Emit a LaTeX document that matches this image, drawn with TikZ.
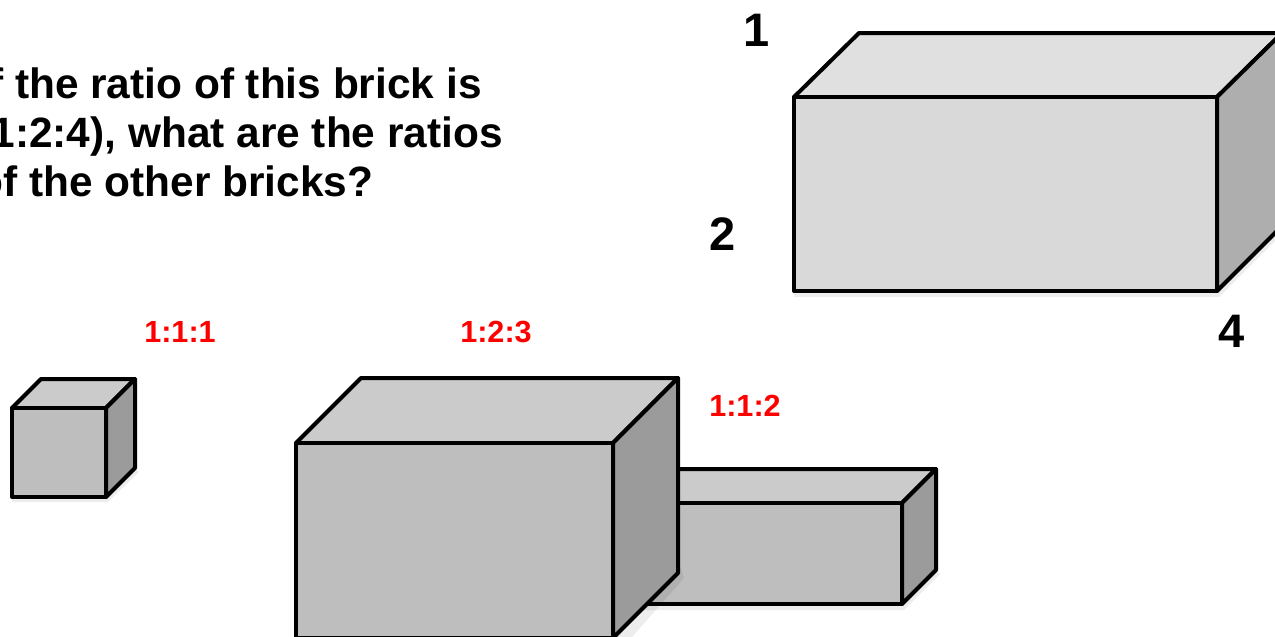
\documentclass[tikz,border=0pt]{standalone}
\usepackage{fontspec}
\setmainfont{Liberation Sans}
\definecolor{bigfront}{HTML}{D9D9D9}
\definecolor{bigtop}{HTML}{E0E0E0}
\definecolor{bigside}{HTML}{AEAEAE}
\definecolor{smallfront}{HTML}{BEBEBE}
\definecolor{smalltop}{HTML}{CBCBCB}
\definecolor{smallside}{HTML}{9B9B9B}
\definecolor{ratiored}{HTML}{FF0000}
\begin{document}
\begin{tikzpicture}[x=0.5pt, y=-0.5pt]
    % Node styles
    \tikzstyle{question} = [align=left, anchor=north west, inner sep=0pt, font=\fontsize{21.2}{24.5}\selectfont\bfseries]
    \tikzstyle{number} = [font=\fontsize{23.5}{26}\selectfont\bfseries]
    \tikzstyle{ratio} = [text=ratiored, font=\fontsize{15.3}{17}\selectfont\bfseries]
    \tikzstyle{face} = [draw=black, line width=2pt, line join=round]
    \tikzstyle{shade} = [fill=black, fill opacity=0.07, draw=none]

    \useasboundingbox (0,0) rectangle (1275,637);
    \clip (0,0) rectangle (1275,637);

    % Question
    \node[question] (question) at (-23,67) {If the ratio of this brick is\\(1:2:4), what are the ratios\\of the other bricks?};

    % Large brick
    \fill[shade] (794,291) -- (794,297) -- (1219,297) -- (1285,231) -- (1285,224) -- (1217,291) -- cycle;
    \filldraw[face, fill=bigtop] (794,97) -- (859,33) -- (1282,33) -- (1217,97) -- cycle;
    \filldraw[face, fill=bigside] (1217,97) -- (1282,33) -- (1282,226) -- (1217,291) -- cycle;
    \filldraw[face, fill=bigfront] (794,97) rectangle (1217,291);
    \node[number] (n1) at (757,30) {1};
    \node[number] (n2) at (723,234) {2};
    \node[number] (n4) at (1232,331) {4};

    % Cube 1:1:1
    \fill[shade] (12,497) -- (12,502) -- (108,502) -- (139,472) -- (135,468) -- (106,497) -- cycle;
    \filldraw[face, fill=smalltop] (12,408) -- (41,379) -- (135,379) -- (106,408) -- cycle;
    \filldraw[face, fill=smallside] (106,408) -- (135,379) -- (135,468) -- (106,497) -- cycle;
    \filldraw[face, fill=smallfront] (12,408) rectangle (106,497);
    \node[ratio] (r111) at (180,332) {1:1:1};

    % Brick 1:1:2
    \fill[shade] (640,604) -- (640,610) -- (904,610) -- (940,574) -- (936,570) -- (902,604) -- cycle;
    \filldraw[face, fill=smalltop] (640,503) -- (674,469) -- (936,469) -- (902,503) -- cycle;
    \filldraw[face, fill=smallside] (902,503) -- (936,469) -- (936,570) -- (902,604) -- cycle;
    \filldraw[face, fill=smallfront] (640,503) rectangle (902,604);
    \node[ratio] (r112) at (745,406) {1:1:2};

    % Brick 1:2:3
    \fill[shade] (613,638) -- (625,645) -- (684,578) -- (678,560) -- cycle;
    \filldraw[face, fill=smalltop] (296,443) -- (361,378) -- (678,378) -- (613,443) -- cycle;
    \filldraw[face, fill=smallside] (613,443) -- (678,378) -- (678,573) -- (613,638) -- cycle;
    \filldraw[face, fill=smallfront] (296,443) rectangle (613,638);
    \node[ratio] (r123) at (496,332) {1:2:3};
\end{tikzpicture}
\end{document}
